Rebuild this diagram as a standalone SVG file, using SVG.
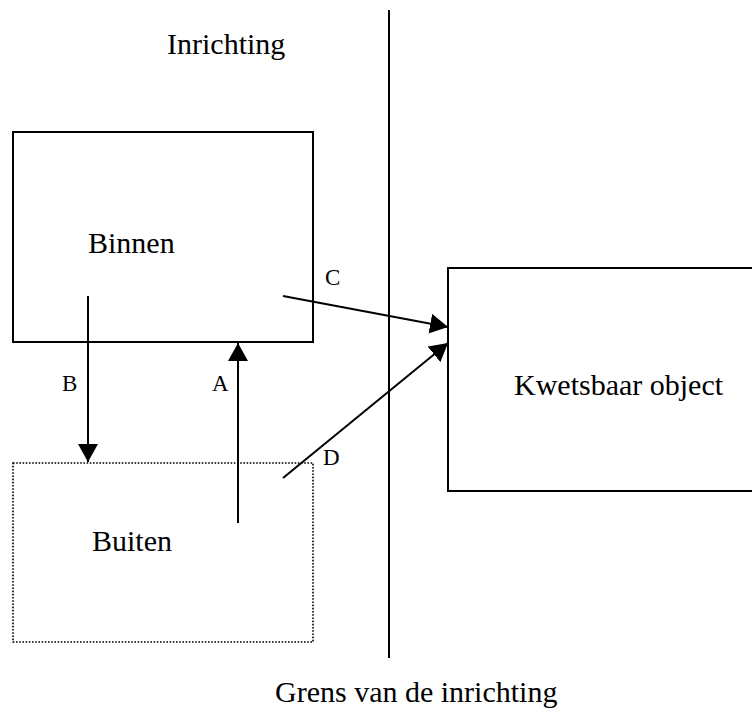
<svg xmlns="http://www.w3.org/2000/svg" width="752" height="715" viewBox="0 0 752 715">
<style>
text{font-family:"Liberation Serif","Times New Roman",serif;fill:#000}
.big{font-size:30px}
.lbl{font-size:23px}
.box{fill:none;stroke:#000;stroke-width:2}
.dot{fill:none;stroke:#000;stroke-width:1.6;stroke-dasharray:1.6 1.6}
.conn{stroke:#000;stroke-width:2;fill:none}
</style>
<defs>
<marker id="ah" markerUnits="userSpaceOnUse" markerWidth="18" markerHeight="20" refX="18" refY="10" orient="auto">
<path d="M0,0 L18,10 L0,20 z" fill="#000"/>
</marker>
</defs>
<rect width="752" height="715" fill="#fff"/>
<g id="boundary">
<line x1="389" y1="10" x2="389" y2="658" stroke="#000" stroke-width="2"/>
<text class="big" x="167" y="54">Inrichting</text>
<text class="big" x="275" y="702">Grens van de inrichting</text>
</g>
<g id="binnen">
<rect class="box" x="13" y="132" width="300" height="210"/>
<text class="big" x="88" y="253">Binnen</text>
</g>
<g id="buiten">
<rect class="dot" x="13" y="463" width="300" height="179"/>
<text class="big" x="92" y="551">Buiten</text>
</g>
<g id="kwetsbaar">
<path class="box" d="M760,268 L448,268 L448,491 L760,491"/>
<text class="big" x="514" y="395">Kwetsbaar object</text>
</g>
<g id="connectors">
<line class="conn" x1="88" y1="296" x2="88" y2="462" marker-end="url(#ah)"/>
<line class="conn" x1="238" y1="523" x2="238" y2="343" marker-end="url(#ah)"/>
<line class="conn" x1="283" y1="296" x2="448" y2="327" marker-end="url(#ah)"/>
<line class="conn" x1="283" y1="478" x2="448" y2="343" marker-end="url(#ah)"/>
<text class="lbl" x="62" y="391">B</text>
<text class="lbl" x="212" y="391">A</text>
<text class="lbl" x="325" y="285">C</text>
<text class="lbl" x="323" y="465">D</text>
</g>
</svg>
